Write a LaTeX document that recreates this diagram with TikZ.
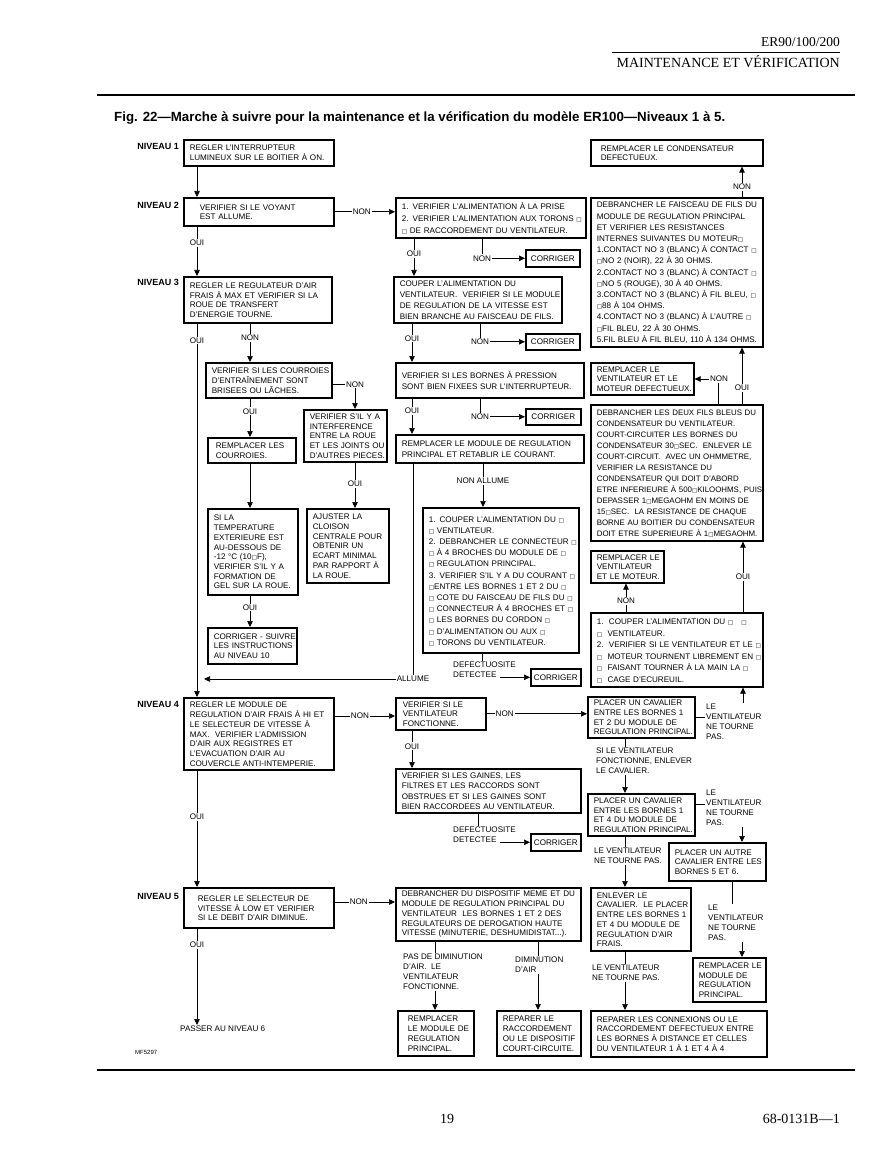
\documentclass[tikz,border=0pt]{standalone}
\usepackage{fontspec}
\setmainfont{Liberation Sans}
\newfontfamily\seriff{Liberation Serif}
\newfontfamily\dvs{DejaVu Sans}[Scale=0.7]
\usetikzlibrary{arrows.meta,calc}
\newcommand\sq{{\dvs □}}
\newlength\boxind
\newlength\boxdrop
\setlength\boxdrop{1.2pt}
\tikzset{
  fbox/.style={draw, line width=1.6pt, anchor=north west, inner xsep=6pt, inner ysep=1pt,
    font=\fontsize{8.1}{9.7}\selectfont},
  ind/.code={\setlength\boxind{#1}},
  drop/.code={\setlength\boxdrop{#1}},
  wide/.style={font=\fontsize{8.1}{11.2}\selectfont},
  bs/.style={font=\fontsize{8.1}{#1}\selectfont},
  cbox/.style={draw, line width=1.6pt, anchor=north west, inner sep=0pt, font=\fontsize{8.1}{10}\selectfont},
  lab/.style={fill=white, inner sep=1pt, font=\fontsize{8.1}{10}\selectfont},
  txt/.style={inner sep=1pt, font=\fontsize{8.1}{10}\selectfont, align=left},
  arr/.style={-{Triangle[length=6pt,width=5.5pt]}},
  conn/.style={line width=0.7pt},
  niv/.style={font=\bfseries\fontsize{9}{10}\selectfont, anchor=east, inner sep=0pt},
}
\newcommand\fb[6][]{\node[fbox,#1,minimum width=#4pt,minimum height=#5pt,text width=#4pt-12pt] (#2) at (#3) {\hspace*{\boxind}\raisebox{-\boxdrop}[\height][\depth]{\begin{tabular}{@{}l@{}}#6\end{tabular}}};}
\begin{document}
\begin{tikzpicture}[x=1pt,y=-1pt]
\useasboundingbox (0,0) rectangle (892,1155);
% header
\node[anchor=base east, inner sep=0, font=\seriff\fontsize{13.5}{14}\selectfont] (hd1) at (840,47) {ER90/100/200};
\draw[line width=0.6pt] (612,52) -- (840,52);
\node[anchor=base east, inner sep=0, font=\seriff\fontsize{14}{15}\selectfont] (hd2) at (840,68) {MAINTENANCE ET VÉRIFICATION};
\draw[line width=1.6pt] (97,95) -- (855,95);
\node[anchor=base west, inner sep=0, font=\bfseries\fontsize{13.3}{14}\selectfont] (cap) at (114,122) {Fig. 22—Marche à suivre pour la maintenance et la vérification du modèle ER100—Niveaux 1 à 5.};
\draw[line width=1.6pt] (97,1070) -- (855,1070);
\node[anchor=base, inner sep=0, font=\seriff\fontsize{14}{15}\selectfont] (pg) at (447,1123) {19};
\node[anchor=base east, inner sep=0, font=\seriff\fontsize{14}{15}\selectfont] (doc) at (840,1123) {68-0131B—1};

% left column
\node[niv] (n1) at (179,146) {NIVEAU 1};
\fb{L1}{183,139}{150}{26}{REGLER L'INTERRUPTEUR\\LUMINEUX SUR LE BOITIER À ON.}
\node[niv] (n2) at (179,205) {NIVEAU 2};
\fb[ind=10pt]{L2}{183,197}{150}{28}{VERIFIER SI LE VOYANT\\EST ALLUME.}
\node[niv] (n3) at (179,282) {NIVEAU 3};
\fb{L3}{183,276}{148}{46}{REGLER LE REGULATEUR D'AIR\\FRAIS À MAX ET VERIFIER SI LA\\ROUE DE TRANSFERT\\D'ENERGIE TOURNE.}
\fb{L3a}{205,362}{126}{35}{VERIFIER SI LES COURROIES\\D'ENTRAÎNEMENT SONT\\BRISEES OU LÂCHES.}
\fb{L3b}{303,409}{83}{52}{VERIFIER S'IL Y A\\INTERFERENCE\\ENTRE LA ROUE\\ET LES JOINTS OU\\D'AUTRES PIECES.}
\fb[ind=2pt]{L3c}{207,437}{88}{25}{REMPLACER LES\\COURROIES.}
\fb{L3d}{207,508}{90}{86}{SI LA\\TEMPERATURE\\EXTERIEURE EST\\AU-DESSOUS DE\\-12 °C (10\sq F),\\VERIFIER S'IL Y A\\FORMATION DE\\GEL SUR LA ROUE.}
\fb{L3e}{207,627}{89}{36}{CORRIGER - SUIVRE\\LES INSTRUCTIONS\\AU NIVEAU 10}
\fb{L3f}{306,508}{82}{74}{AJUSTER LA\\CLOISON\\CENTRALE POUR\\OBTENIR UN\\ECART MINIMAL\\PAR RAPPORT À\\LA ROUE.}
\node[niv] (n4) at (179,704) {NIVEAU 4};
\fb{L4}{183,697}{150}{72}{REGLER LE MODULE DE\\REGULATION D'AIR FRAIS À HI ET\\LE SELECTEUR DE VITESSE À\\MAX.~ VERIFIER L'ADMISSION\\D'AIR AUX REGISTRES ET\\L'EVACUATION D'AIR AU\\COUVERCLE ANTI-INTEMPERIE.}
\node[niv] (n5) at (179,896) {NIVEAU 5};
\fb[ind=8pt]{L5}{183,887}{150}{40}{REGLER LE SELECTEUR DE\\VITESSE À LOW ET VERIFIER\\SI LE DEBIT D'AIR DIMINUE.}
\node[txt, anchor=north west] (passer) at (179,1025) {PASSER AU NIVEAU 6};
\node[txt, anchor=west, font=\fontsize{6}{7}\selectfont] (mf) at (134,1052) {MF5297};

% middle column
\fb[bs=12]{M1}{395,197}{190}{40}{1. VERIFIER L'ALIMENTATION À LA PRISE\\2. VERIFIER L'ALIMENTATION AUX TORONS \sq\\\sq\ DE RACCORDEMENT DU VENTILATEUR.}
\node[cbox, minimum width=54, minimum height=17] (C1) at (525,249) {CORRIGER};
\fb[bs=11]{M2}{393,276}{168}{45}{COUPER L'ALIMENTATION DU\\VENTILATEUR.~ VERIFIER SI LE MODULE\\DE REGULATION DE LA VITESSE EST\\BIEN BRANCHE AU FAISCEAU DE FILS.}
\node[cbox, minimum width=54, minimum height=16] (C2) at (525,333) {CORRIGER};
\fb[bs=11]{M3}{395,362}{188}{35}{VERIFIER SI LES BORNES À PRESSION\\SONT BIEN FIXEES SUR L'INTERRUPTEUR.}
\node[cbox, minimum width=55, minimum height=16] (C3) at (525,408) {CORRIGER};
\fb[bs=11]{M3c}{395,434}{188}{28}{REMPLACER LE MODULE DE REGULATION\\PRINCIPAL ET RETABLIR LE COURANT.}
\fb[wide]{M3d}{422,507}{156}{145}{1. COUPER L'ALIMENTATION DU \sq\\\sq\ VENTILATEUR.\\2. DEBRANCHER LE CONNECTEUR \sq\\\sq\ À 4 BROCHES DU MODULE DE \sq\\\sq\ REGULATION PRINCIPAL.\\3. VERIFIER S'IL Y A DU COURANT \sq\\\sq ENTRE LES BORNES 1 ET 2 DU \sq\\\sq\ COTE DU FAISCEAU DE FILS DU \sq\\\sq\ CONNECTEUR À 4 BROCHES ET \sq\\\sq\ LES BORNES DU CORDON \sq\\\sq\ D'ALIMENTATION OU AUX \sq\\\sq\ TORONS DU VENTILATEUR.}
\node[txt, anchor=north west] (df1) at (452,661) {DEFECTUOSITE\\DETECTEE};
\node[cbox, minimum width=50, minimum height=17] (C4) at (530,668) {CORRIGER};
\fb[ind=1pt]{M4}{395,697}{90}{32}{VERIFIER SI LE\\VENTILATEUR\\FONCTIONNE.}
\fb[bs=10.5]{M4b}{395,768}{185}{44}{VERIFIER SI LES GAINES, LES\\FILTRES ET LES RACCORDS SONT\\OBSTRUES ET SI LES GAINES SONT\\BIEN RACCORDEES AU VENTILATEUR.}
\node[txt, anchor=north west] (df2) at (452,826) {DEFECTUOSITE\\DETECTEE};
\node[cbox, minimum width=50, minimum height=17] (C5) at (530,833) {CORRIGER};
\fb[bs=9.8, drop=0pt]{M5}{395,887}{185}{53}{DEBRANCHER DU DISPOSITIF MEME ET DU\\MODULE DE REGULATION PRINCIPAL DU\\VENTILATEUR~ LES BORNES 1 ET 2 DES\\REGULATEURS DE DEROGATION HAUTE\\VITESSE (MINUTERIE, DESHUMIDISTAT...).}
\node[txt, anchor=north west] (pasd) at (402,953) {PAS DE DIMINUTION\\D'AIR.~ LE\\VENTILATEUR\\FONCTIONNE.};
\node[txt, anchor=north west] (dimi) at (514,956) {DIMINUTION\\D'AIR};
\fb[ind=4pt]{M5a}{397,1010}{76}{45}{REMPLACER\\LE MODULE DE\\REGULATION\\PRINCIPAL.}
\fb{M5b}{496,1010}{84}{45}{REPARER LE\\RACCORDEMENT\\OU LE DISPOSITIF\\COURT-CIRCUITE.}

% right column
\fb[ind=4pt]{R0}{590,139}{172}{26}{REMPLACER LE CONDENSATEUR\\DEFECTUEUX.}
\fb[wide, drop=0.5pt]{R1}{590,197}{172}{149}{DEBRANCHER LE FAISCEAU DE FILS DU\\MODULE DE REGULATION PRINCIPAL\\ET VERIFIER LES RESISTANCES\\INTERNES SUIVANTES DU MOTEUR\sq\\1.CONTACT NO 3 (BLANC) À CONTACT \sq\\\sq NO 2 (NOIR), 22 À 30 OHMS.\\2.CONTACT NO 3 (BLANC) À CONTACT \sq\\\sq NO 5 (ROUGE), 30 À 40 OHMS.\\3.CONTACT NO 3 (BLANC) À FIL BLEU, \sq\\\sq 88 À 104 OHMS.\\4.CONTACT NO 3 (BLANC) À L'AUTRE \sq\\\sq FIL BLEU, 22 À 30 OHMS.\\5.FIL BLEU À FIL BLEU, 110 À 134 OHMS.}
\fb{R2}{590,362}{103}{32}{REMPLACER LE\\VENTILATEUR ET LE\\MOTEUR DEFECTUEUX.}
\node[lab] (nonR2) at (719,379) {NON};
\fb[font=\fontsize{7.9}{11}\selectfont, drop=0.5pt]{R3}{590,404}{172}{136}{DEBRANCHER LES DEUX FILS BLEUS DU\\CONDENSATEUR DU VENTILATEUR.\\COURT-CIRCUITER LES BORNES DU\\CONDENSATEUR 30\sq SEC.~ ENLEVER LE\\COURT-CIRCUIT.~ AVEC UN OHMMETRE,\\VERIFIER LA RESISTANCE DU\\CONDENSATEUR QUI DOIT D'ABORD\\ETRE INFERIEURE À 500\sq KILOOHMS, PUIS\\DEPASSER 1\sq MEGAOHM EN MOINS DE\\15\sq SEC.~ LA RESISTANCE DE CHAQUE\\BORNE AU BOITIER DU CONDENSATEUR\\DOIT ETRE SUPERIEURE À 1\sq MEGAOHM.}
\fb{R3b}{590,550}{73}{32}{REMPLACER LE\\VENTILATEUR\\ET LE MOTEUR.}
\fb[bs=11.5]{R4a}{590,612}{172}{74}{1.\ \ COUPER L'ALIMENTATION DU \sq\hspace{8pt}\sq\\\sq\ \ VENTILATEUR.\\2.\ \ VERIFIER SI LE VENTILATEUR ET LE \sq\\\sq\ \ MOTEUR TOURNENT LIBREMENT EN \sq\\\sq\ \ FAISANT TOURNER À LA MAIN LA \sq\\\sq\ \ CAGE D'ECUREUIL.}
\fb{R4}{587,696}{107}{41}{PLACER UN CAVALIER\\ENTRE LES BORNES 1\\ET 2 DU MODULE DE\\REGULATION PRINCIPAL.}
\node[txt, anchor=north west] (lv1) at (705,703) {LE\\VENTILATEUR\\NE TOURNE\\PAS.};
\node[txt, anchor=north west] (si1) at (595,747) {SI LE VENTILATEUR\\FONCTIONNE, ENLEVER\\LE CAVALIER.};
\fb{R5}{587,793}{107}{42}{PLACER UN CAVALIER\\ENTRE LES BORNES 1\\ET 4 DU MODULE DE\\REGULATION PRINCIPAL.}
\node[txt, anchor=north west] (lv2) at (705,789) {LE\\VENTILATEUR\\NE TOURNE\\PAS.};
\node[txt, anchor=north west] (lv3) at (593,847) {LE VENTILATEUR\\NE TOURNE PAS.};
\fb{R6}{668,842}{97}{38}{PLACER UN AUTRE\\CAVALIER ENTRE LES\\BORNES 5 ET 6.}
\fb{R7}{590,887}{100}{63}{ENLEVER LE\\CAVALIER.~ LE PLACER\\ENTRE LES BORNES 1\\ET 4 DU MODULE DE\\REGULATION D'AIR\\FRAIS.}
\node[txt, anchor=north west] (lv4) at (707,904) {LE\\VENTILATEUR\\NE TOURNE\\PAS.};
\fb{R8}{692,957}{73}{44}{REMPLACER LE\\MODULE DE\\REGULATION\\PRINCIPAL.}
\node[txt, anchor=north west] (lv5) at (591,964) {LE VENTILATEUR\\NE TOURNE PAS.};
\fb{R9}{590,1010}{176}{46}{REPARER LES CONNEXIONS OU LE\\RACCORDEMENT DEFECTUEUX ENTRE\\LES BORNES À DISTANCE ET CELLES\\DU VENTILATEUR 1 À 1 ET 4 À 4}

% connectors left
\draw[conn,arr] ([xshift=14]L1.south west) -- ([xshift=14]L2.north west);
\draw[conn,arr] (L2.east) -- node[lab,pos=.45]{NON} (L2.east -| M1.west);
\draw[conn,arr] ([xshift=14]L2.south west) -- node[lab,pos=.33]{OUI} ([xshift=14]L3.north west);
\draw[conn,arr] ([xshift=14]L3.south west) -- node[lab,pos=.045]{OUI} ([xshift=14]L4.north west);
\draw[conn,arr] ([xshift=67]L3.south west) -- node[lab,pos=.38]{NON} ([xshift=45]L3a.north west);
\draw[conn,arr] ([yshift=-4]L3a.east) -| node[lab]{NON} ([xshift=52]L3b.north west);
\draw[conn,arr] ([xshift=45]L3a.south west) -- node[lab,pos=.33]{OUI} ([xshift=43]L3c.north west);
\draw[conn,arr] ([xshift=43]L3c.south west) -- ([xshift=43]L3d.north west);
\draw[conn,arr] ([xshift=43]L3d.south west) -- node[lab,pos=.38]{OUI} ([xshift=43]L3e.north west);
\draw[conn,arr] ([xshift=52]L3b.south west) -- node[lab,pos=.47]{OUI} ([xshift=49]L3f.north west);
\coordinate (jn) at (204,679);
\draw[conn,arr] ([xshift=18]M3c.south west) |- node[lab]{ALLUME} (jn);
\draw[conn,arr] ([yshift=-19]L4.north east) -- node[lab,pos=.42]{NON} ([yshift=-19]L4.north east -| M4.west);
\draw[conn,arr] ([xshift=14]L4.south west) -- node[lab,pos=.4]{OUI} ([xshift=14]L5.north west);
\draw[conn,arr] ([yshift=-15]L5.north east) -- node[lab,pos=.4]{NON} ([yshift=-15]L5.north east -| M5.west);
\draw[conn,arr] ([xshift=14]L5.south west) -- node[lab,pos=.17]{OUI} ([xshift=18]passer.north west);

% connectors middle
\draw[conn,arr] ([xshift=19]M1.south west) -- node[lab,pos=.41]{OUI} ([xshift=21]M2.north west);
\draw[conn,arr] ([xshift=87]M1.south west) |- node[lab]{NON} (C1.west);
\draw[conn,arr] ([xshift=19]M2.south west) -- node[lab,pos=.39]{OUI} ([xshift=17]M3.north west);
\draw[conn,arr] ([xshift=87]M2.south west) |- node[lab]{NON} (C2.west);
\draw[conn,arr] ([xshift=17]M3.south west) -- node[lab,pos=.35]{OUI} ([xshift=17]M3c.north west);
\draw[conn,arr] ([xshift=85]M3.south west) |- node[lab]{NON} (C3.west);
\draw[conn,arr] ([xshift=88]M3c.south west) -- node[lab,pos=.4]{NON ALLUME} ([xshift=61]M3d.north west);
\draw[conn] ([xshift=60]M3d.south west) -- ([xshift=60]M3d.south west |- df1.north);
\draw[conn,arr] ([xshift=-17]df1.east |- C4.west) -- (C4.west);
\draw[conn,arr] (M4.east) -- node[lab,pos=.18]{NON} (M4.east -| R4.west);
\draw[conn,arr] ([xshift=17]M4.south west) -- node[lab,pos=.42]{OUI} ([xshift=17]M4b.north west);
\draw[conn] ([xshift=83]M4b.south west) -- ([xshift=83]M4b.south west |- df2.north);
\draw[conn,arr] ([xshift=-17]df2.east |- C5.west) -- (C5.west);
\draw[conn] ([xshift=40]M5.south west) -- ([xshift=40]M5.south west |- pasd.north);
\draw[conn,arr] ([xshift=38]M5a.north west |- pasd.south) -- ([xshift=38]M5a.north west);
\draw[conn] ([xshift=143]M5.south west) -- ([xshift=143]M5.south west |- dimi.north);
\draw[conn,arr] ([xshift=42]M5b.north west |- dimi.south) -- ([xshift=42]M5b.north west);

% connectors right
\draw[conn,arr] ([xshift=152]R1.north west) -- node[lab,pos=.34]{NON} ([xshift=152]R0.south west);
\draw[conn] ([xshift=128]R3.north west) -- ([xshift=128]R3.north west |- nonR2.south);
\draw[conn,arr] (nonR2.west) -- (nonR2.west -| R2.east);
\draw[conn,arr] ([xshift=152]R3.north west) -- node[lab,pos=.28]{OUI} ([xshift=152]R1.south west);
\draw[conn,arr] ([xshift=153]R4a.north west) -- node[lab,pos=.5]{OUI} ([xshift=153]R3.south west);
\draw[conn,arr] ([xshift=36]R4a.north west) -- node[lab,pos=.4]{NON} ([xshift=36]R3b.south west);
\draw[conn] (R4.east) -- (R4.east -| lv1.west);
\draw[conn,arr] ([xshift=153]R4a.south west |- lv1.north) -- ([xshift=153]R4a.south west);
\draw[conn] ([xshift=38]R4.south west) -- ([xshift=38]R4.south west |- si1.north);
\draw[conn,arr] ([xshift=38]R5.north west |- si1.south) -- ([xshift=38]R5.north west);
\draw[conn] ([yshift=10]R5.east) -- ([yshift=10]R5.east -| lv2.west);
\draw[conn,arr] ([xshift=74]R6.north west |- lv2.south) -- ([xshift=74]R6.north west);
\draw[conn] ([xshift=38]R5.south west) -- ([xshift=38]R5.south west |- lv3.north);
\draw[conn,arr] ([xshift=35]R7.north west |- lv3.south) -- ([xshift=35]R7.north west);
\draw[conn] ([xshift=64]R6.south west) -- ([xshift=64]R6.south west |- lv4.north);
\draw[conn,arr] ([xshift=50]R8.north west |- lv4.south) -- ([xshift=50]R8.north west);
\draw[conn] ([xshift=35]R7.south west) -- ([xshift=35]R7.south west |- lv5.north);
\draw[conn,arr] ([xshift=35]R9.north west |- lv5.south) -- ([xshift=35]R9.north west);
\end{tikzpicture}
\end{document}
